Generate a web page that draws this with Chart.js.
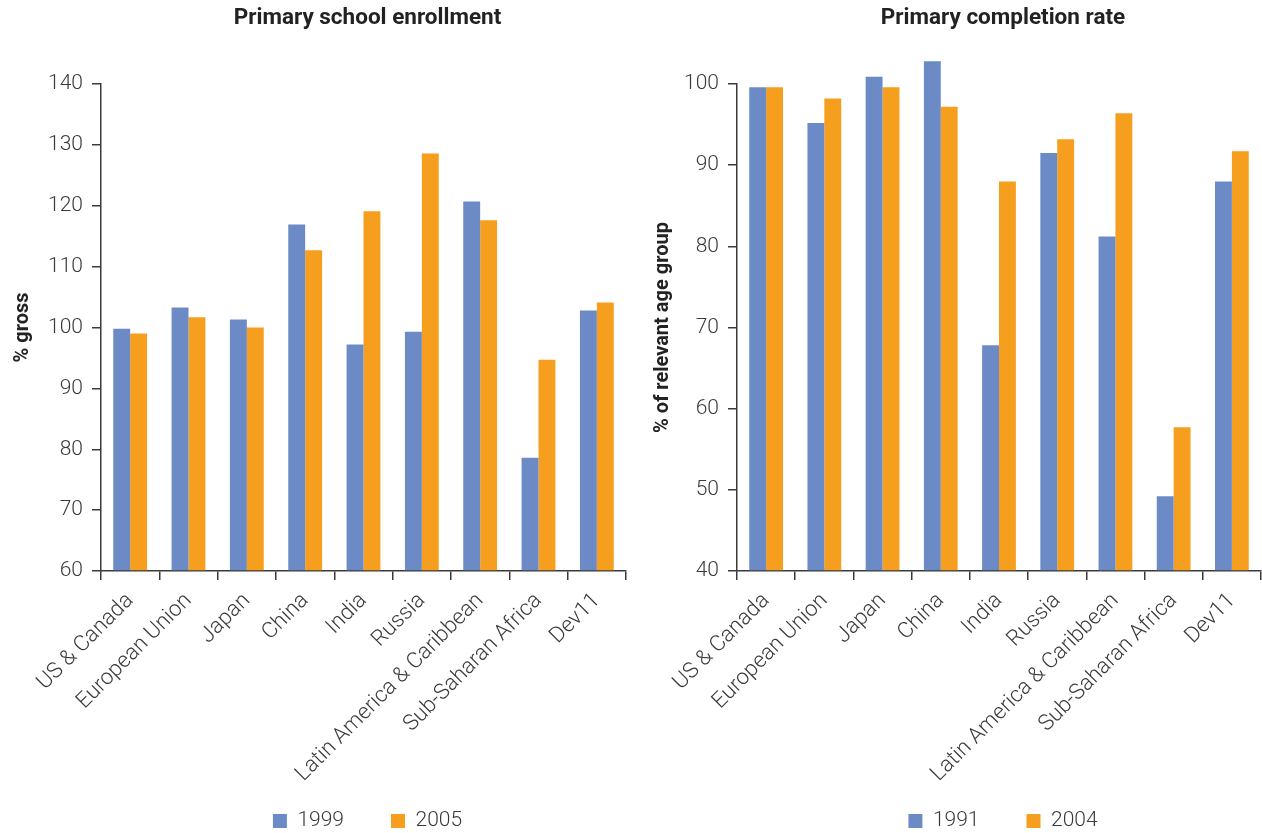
<!DOCTYPE html>
<html>
<head>
<meta charset="utf-8">
<script src="https://cdn.jsdelivr.net/npm/chart.js@4"></script>
<style>
  html, body { margin: 0; padding: 0; background: #fff; overflow: hidden; }
  .wrap { position: absolute; top: 0; height: 920px; }
  #w1 { left: 0; width: 640px; }
  #w2 { left: 640px; width: 622px; }
</style>
</head>
<body>
<div class="wrap" id="w1"><canvas id="enrollChart"></canvas></div>
<div class="wrap" id="w2"><canvas id="completionChart"></canvas></div>
<script>
const regions = ['US & Canada', 'European Union', 'Japan', 'China', 'India', 'Russia',
                 'Latin America & Caribbean', 'Sub-Saharan Africa', 'Dev11'];

// Primary school enrollment, % gross
const enrollYears = ['1999', '2005'];
const enroll1999 = [99.8, 103.3, 101.3, 116.9, 97.2, 99.3, 120.7, 78.6, 102.8];
const enroll2005 = [99.0, 101.7, 100.0, 112.7, 119.1, 128.6, 117.6, 94.7, 104.1];
const enrollMin = 60, enrollMax = 140;

// Primary completion rate, % of relevant age group
const completionYears = ['1991', '2004'];
const completion1991 = [99.6, 95.2, 100.9, 102.8, 67.8, 91.5, 81.2, 49.2, 88.0];
const completion2004 = [99.6, 98.2, 99.6, 97.2, 88.0, 93.2, 96.4, 57.7, 91.7];
const completionMin = 40, completionMax = 100;

const BLUE = '#6c8bc6';
const ORANGE = '#f69e1e';
const INK = '#3a3a3a';
const LEGEND_Y = 821;   // centre line of the legend row

Chart.defaults.font.family = 'Roboto, "Liberation Sans", sans-serif';
Chart.defaults.color = INK;

// put the legend row over the bottom of the (tall) x axis box so long labels are not clipped
const legendPlace = {
    id: 'legendPlace',
    afterLayout(chart) {
        const lg = chart.legend;
        const lab = lg.options.labels;
        const h = lg.height;
        lg.top = LEGEND_Y - lab.padding - lab.font.size / 2;
        lg.bottom = lg.top + h;
        lg.left += 4;
        lg.right += 4;
        // title sits a little right of the plot centre in the original
        chart.titleBlock.left += 4;
        chart.titleBlock.right += 4;
    }
};

function makeChart(id, title, yTitle, names, series, yMin, yMax, axisWidth, rightPad) {
    const ctx = document.getElementById(id).getContext('2d');
    return new Chart(ctx, {
        type: 'bar',
        data: {
            labels: regions,
            datasets: [
                { label: names[0], data: series[0], backgroundColor: BLUE, base: yMin, clip: false },
                { label: names[1], data: series[1], backgroundColor: ORANGE, base: yMin, clip: false }
            ]
        },
        options: {
            responsive: true,
            maintainAspectRatio: false,
            animation: false,
            categoryPercentage: 0.58,
            barPercentage: 1,
            layout: { padding: { left: 0, right: rightPad, top: 0, bottom: 0 } },
            plugins: {
                title: {
                    display: true,
                    text: title,
                    fullSize: false,
                    color: '#222',
                    font: { size: 22.5, weight: 'bold' },
                    padding: { top: 5, bottom: 52 }
                },
                legend: {
                    position: 'bottom',
                    fullSize: false,
                    labels: {
                        boxWidth: 14,
                        boxHeight: 14,
                        padding: 47,
                        color: INK,
                        font: { size: 21, weight: '300' }
                    }
                },
                tooltip: { enabled: false }
            },
            scales: {
                x: {
                    grid: { offset: true, drawOnChartArea: false, tickLength: 9, color: INK, lineWidth: 1.5 },
                    border: { color: INK, width: 1.5 },
                    ticks: { autoSkip: false, minRotation: 45, maxRotation: 45, padding: 8,
                             font: { size: 22, weight: '300' } },
                    afterFit(scale) { scale.height = 271; }
                },
                y: {
                    min: yMin,
                    max: yMax,
                    grid: { drawOnChartArea: false, tickLength: 9, color: INK, lineWidth: 1.5 },
                    border: { color: INK, width: 1.5 },
                    ticks: { stepSize: 10, padding: 9, font: { size: 21, weight: '300' } },
                    title: {
                        display: true,
                        text: yTitle,
                        color: '#222',
                        font: { size: 20, weight: 'bold' },
                        padding: { top: 11, bottom: 0 }
                    },
                    afterFit(scale) { scale.width = axisWidth; }
                }
            }
        },
        plugins: [legendPlace]
    });
}

makeChart('enrollChart', 'Primary school enrollment', '% gross',
    enrollYears, [enroll1999, enroll2005], enrollMin, enrollMax, 101, 14);
makeChart('completionChart', 'Primary completion rate', '% of relevant age group',
    completionYears, [completion1991, completion2004], completionMin, completionMax, 97, 1);
</script>
</body>
</html>
